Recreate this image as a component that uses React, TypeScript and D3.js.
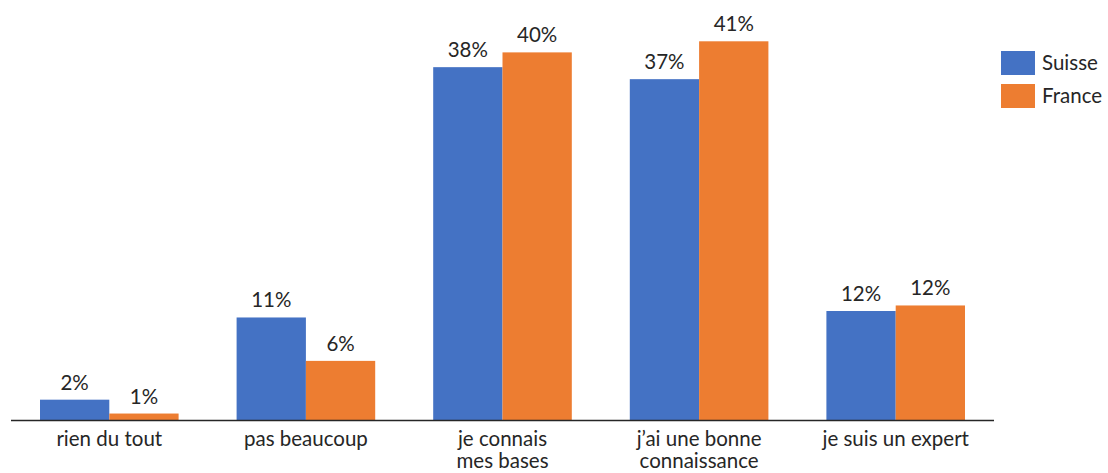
import React from "react";
import * as d3 from "d3";

const categories = [
  "rien du tout",
  "pas beaucoup",
  "je connais\nmes bases",
  "j’ai une bonne\nconnaissance",
  "je suis un expert",
];
const seriesNames = ["Suisse", "France"];
const suisse = [2.2, 11.1, 38.2, 36.9, 11.8];
const france = [0.7, 6.4, 39.8, 41.0, 12.4];
const colors = ["#4472C4", "#ED7D31"];

const width = 1108;
const height = 473;
const baseline = 420;
const font = "Lato, 'Open Sans', sans-serif";
const fontSize = 20.5;
const textColor = "#262626";

const App = () => {
  const x = d3
    .scaleBand()
    .domain(categories)
    .range([11, 994])
    .paddingInner(0.295)
    .paddingOuter(0.1475);

  const sub = d3
    .scaleBand()
    .domain(seriesNames)
    .range([0, x.bandwidth()]);

  const y = d3.scaleLinear().domain([0, 41]).range([baseline, 41.3]);

  const series = [suisse, france];

  return (
    <div style={{ position: "absolute", left: 0, top: 0 }}>
      <svg width={width} height={height} style={{ display: "block" }}>
        <rect width={width} height={height} fill="#fff" />
        {categories.map((c, i) => (
          <g key={c} transform={`translate(${x(c)},0)`}>
            {seriesNames.map((s, j) => {
              const v = series[j][i];
              const bx = sub(s)!;
              return (
                <g key={s}>
                  <rect
                    x={bx}
                    y={y(v)}
                    width={sub.bandwidth()}
                    height={baseline - y(v)}
                    fill={colors[j]}
                  />
                  <text
                    x={bx + sub.bandwidth() / 2}
                    y={y(v) - 10}
                    textAnchor="middle"
                    fontFamily={font}
                    fontSize={fontSize}
                    fill={textColor}
                  >
                    {Math.round(v) + "%"}
                  </text>
                </g>
              );
            })}
            <text
              x={x.bandwidth() / 2}
              y={446}
              textAnchor="middle"
              fontFamily={font}
              fontSize={fontSize}
              fill={textColor}
            >
              {c.split("\n").map((line, k) => (
                <tspan key={k} x={x.bandwidth() / 2} dy={k === 0 ? 0 : 22}>
                  {line}
                </tspan>
              ))}
            </text>
          </g>
        ))}
        <line
          x1={11}
          x2={994}
          y1={baseline + 0.5}
          y2={baseline + 0.5}
          stroke="#262626"
          strokeWidth={1.5}
        />
        {seriesNames.map((s, j) => (
          <g key={s} transform={`translate(1001,${51 + j * 33})`}>
            <rect width={34} height={24} fill={colors[j]} />
            <text
              x={41}
              y={19}
              fontFamily={font}
              fontSize={fontSize}
              fill={textColor}
            >
              {s}
            </text>
          </g>
        ))}
      </svg>
    </div>
  );
};

export default App;
